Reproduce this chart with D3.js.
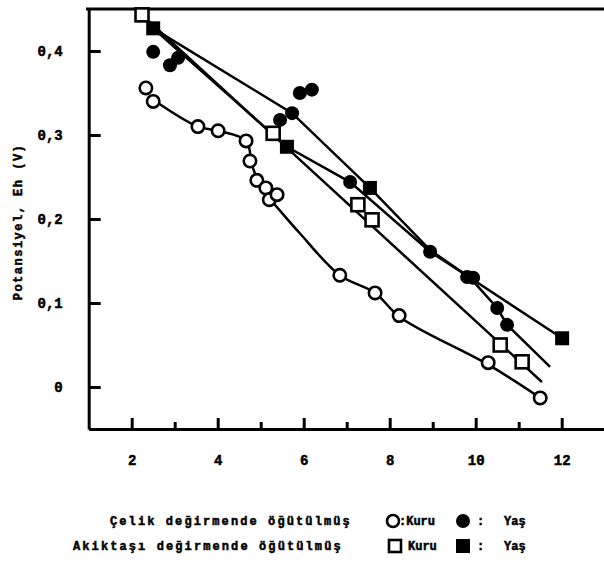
<!DOCTYPE html>
<html><head><meta charset="utf-8">
<script src="https://cdn.jsdelivr.net/npm/d3@7"></script>
<style>
html,body{margin:0;padding:0;background:#fff;}
svg{display:block;}
text{font-family:"Liberation Mono","DejaVu Sans Mono",monospace;font-weight:bold;fill:#000;stroke:#000;stroke-width:0.5px;}
</style></head>
<body>
<svg id="c" width="604" height="567"></svg>
<script>
// ---- data ----
const xTicks = [2,3,4,5,6,7,8,9,10,11,12];
const yTicks = [0,0.1,0.2,0.3,0.4];
const yAxisTitle = "Potansiyel, Eh (V)";

// Çelik değirmende, Kuru (open circles)
const celikKuru = [[2.33,0.356],[2.50,0.340],[3.54,0.310],[4.01,0.305],[4.66,0.293],[4.75,0.269],[4.91,0.246],[5.12,0.237],[5.20,0.223],[5.38,0.229],[6.84,0.133],[7.66,0.112],[8.22,0.085],[10.29,0.029],[11.50,-0.013]];
const celikKuruCurve = [[2.50,0.342],[3.54,0.310],[4.01,0.305],[4.66,0.293],[4.80,0.264],[5.03,0.235],[5.38,0.214],[5.91,0.183],[6.84,0.133],[7.66,0.112],[8.24,0.083],[10.31,0.026],[11.50,-0.013]];
// Çelik değirmende, Yaş (filled circles)
const celikYas = [[2.50,0.399],[2.89,0.383],[3.08,0.392],[5.45,0.318],[5.73,0.326],[5.91,0.350],[6.19,0.354],[7.08,0.244],[8.94,0.161],[9.80,0.131],[9.94,0.130],[10.50,0.094],[10.73,0.074]];
// Akiktaşı değirmende, Kuru (open squares)
const akikKuru = [[2.24,0.443],[5.29,0.302],[7.26,0.217],[7.59,0.199],[10.57,0.050],[11.08,0.030]];
const akikKuruLine = [[2.24,0.443],[11.54,0.006]];
// Akiktaşı değirmende, Yaş (filled squares)
const akikYas = [[2.50,0.427],[5.61,0.286],[7.54,0.237],[12.01,0.058]];
// Yaş lines
const yasLine1 = [[2.50,0.427],[5.73,0.326],[7.54,0.237],[8.94,0.163],[9.87,0.130],[12.01,0.058]];
const yasLine2 = [[2.50,0.427],[5.61,0.286],[7.08,0.244],[8.94,0.161],[9.87,0.130],[10.50,0.094],[10.73,0.074],[11.73,0.024]];

const legendRows = [
  {label:"Çelik değirmende öğütülmüş", open:"circle", t1:":Kuru", t2:":", t3:"Yaş"},
  {label:"Akiktaşı değirmende öğütülmüş", open:"square", t1:"Kuru", t2:":", t3:"Yaş"}
];

// ---- drawing ----
const svg = d3.select("#c");
const x = d3.scaleLinear().domain([1,13]).range([88.7,604.7]);
const y = d3.scaleLinear().domain([-0.05,0.45]).range([429,9]);

// frame top line
svg.append("line").attr("x1",86).attr("x2",604).attr("y1",y(0.45)).attr("y2",y(0.45))
  .attr("stroke","#000").attr("stroke-width",3);

const yAxis = svg.append("g").attr("transform",`translate(${x(1)},0)`)
  .call(d3.axisLeft(y).tickValues(yTicks).tickSizeInner(-12).tickSizeOuter(0).tickPadding(26)
    .tickFormat(d => d===0 ? "0" : d.toFixed(1).replace(".",",")));
yAxis.select(".domain").attr("stroke-width",3);
yAxis.selectAll(".tick line").attr("stroke-width",3);
yAxis.selectAll(".tick text").attr("font-size",14).style("font-family","Liberation Mono").style("font-weight","bold");

const xAxis = svg.append("g").attr("transform",`translate(0,${y(-0.05)})`)
  .call(d3.axisBottom(x).tickValues(xTicks).tickSizeInner(-11).tickSizeOuter(0).tickPadding(26)
    .tickFormat(d => d%2===0 ? d : ""));
xAxis.select(".domain").attr("stroke-width",3);
xAxis.selectAll(".tick line").attr("stroke-width",3).attr("y2",d => d%2===0 ? -11 : -7);
xAxis.selectAll(".tick text").attr("font-size",14).style("font-family","Liberation Mono").style("font-weight","bold");

// y title
svg.append("text").attr("transform","translate(22,222) rotate(-90)")
  .attr("text-anchor","middle").attr("font-size",12).attr("letter-spacing","1.5px")
  .text(yAxisTitle);

const line = d3.line().x(d=>x(d[0])).y(d=>y(d[1]));
const curve = d3.line().x(d=>x(d[0])).y(d=>y(d[1])).curve(d3.curveCatmullRom.alpha(0.5));
const g = svg.append("g").attr("fill","none").attr("stroke","#000").attr("stroke-width",2.5);
g.append("path").attr("d",curve(celikKuruCurve));
g.append("path").attr("d",line(akikKuruLine));
g.append("path").attr("d",line(yasLine1));
g.append("path").attr("d",line(yasLine2));

// markers
svg.append("g").selectAll("circle").data(celikYas).join("circle")
  .attr("cx",d=>x(d[0])).attr("cy",d=>y(d[1])).attr("r",7).attr("fill","#000");
svg.append("g").selectAll("rect").data(akikYas).join("rect")
  .attr("x",d=>x(d[0])-7).attr("y",d=>y(d[1])-7).attr("width",14).attr("height",14).attr("fill","#000");
svg.append("g").selectAll("circle").data(celikKuru).join("circle")
  .attr("cx",d=>x(d[0])).attr("cy",d=>y(d[1])).attr("r",6.2)
  .attr("fill","#fff").attr("stroke","#000").attr("stroke-width",2.6);
svg.append("g").selectAll("rect").data(akikKuru).join("rect")
  .attr("x",d=>x(d[0])-6.5).attr("y",d=>y(d[1])-6.5).attr("width",13).attr("height",13)
  .attr("fill","#fff").attr("stroke","#000").attr("stroke-width",2.6);

// legend
const lgX = [110,73];
const lgY = [521,546];
legendRows.forEach((r,i)=>{
  const yy = lgY[i];
  svg.append("text").attr("x",lgX[i]).attr("y",yy).attr("dy","0.35em")
    .attr("font-size",12).attr("letter-spacing","2.1px").text(r.label);
  if(r.open==="circle"){
    svg.append("circle").attr("cx",393).attr("cy",yy).attr("r",6)
      .attr("fill","#fff").attr("stroke","#000").attr("stroke-width",2.6);
    svg.append("text").attr("x",399).attr("y",yy).attr("dy","0.35em").attr("font-size",12).text(r.t1);
    svg.append("circle").attr("cx",463).attr("cy",yy).attr("r",7).attr("fill","#000");
  } else {
    svg.append("rect").attr("x",389).attr("y",yy-6).attr("width",12).attr("height",12)
      .attr("fill","#fff").attr("stroke","#000").attr("stroke-width",2.6);
    svg.append("text").attr("x",408).attr("y",yy).attr("dy","0.35em").attr("font-size",12).text(r.t1);
    svg.append("rect").attr("x",456).attr("y",yy-7).attr("width",14).attr("height",14).attr("fill","#000");
  }
  svg.append("text").attr("x",477).attr("y",yy).attr("dy","0.35em").attr("font-size",12).text(r.t2);
  svg.append("text").attr("x",504).attr("y",yy).attr("dy","0.35em").attr("font-size",12).text(r.t3);
});
</script>
</body></html>
